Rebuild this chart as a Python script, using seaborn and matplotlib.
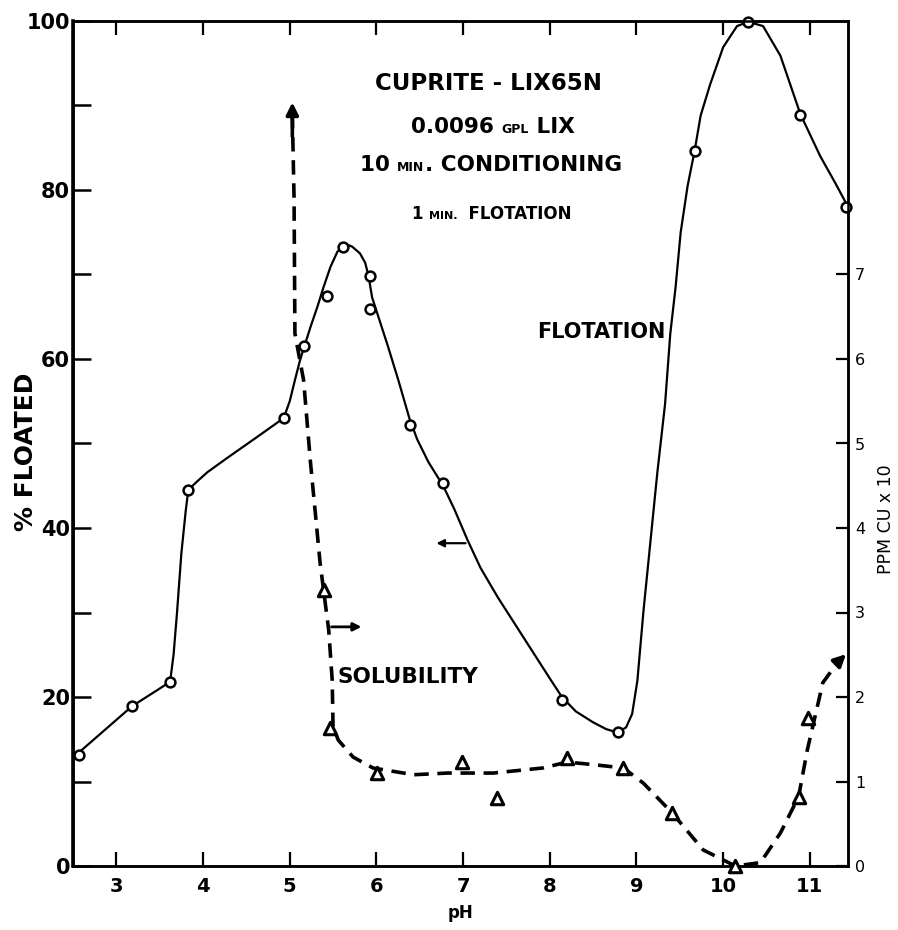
import matplotlib
matplotlib.use('Agg')
import matplotlib.pyplot as plt
import seaborn as sns

# flotation measurements (% floated vs pH)
flot_ph = [2.57, 3.18, 3.62, 3.83, 4.93, 5.16, 5.43, 5.62, 5.93, 5.93, 6.39, 6.77,
           8.14, 8.79, 9.67, 10.29, 10.89, 11.42]
flot_pct = [13.1, 18.9, 21.8, 44.5, 53.0, 61.5, 67.5, 73.3, 69.8, 65.9, 52.2, 45.3,
            19.6, 15.9, 84.6, 99.9, 88.9, 78.0]

# hand drawn flotation curve
flot_curve_ph = [2.52, 3.18, 3.50, 3.62, 3.66, 3.70, 3.75, 3.80, 3.83, 3.92, 4.05, 4.28,
                 4.60, 4.93, 5.00, 5.06, 5.12, 5.24, 5.32, 5.39, 5.47, 5.55, 5.61, 5.67,
                 5.72, 5.81, 5.87, 5.91, 5.95, 6.01, 6.13, 6.25, 6.38, 6.47, 6.60, 6.77,
                 6.90, 7.05, 7.20, 7.40, 7.60, 7.80, 8.00, 8.14, 8.30, 8.50, 8.65, 8.78,
                 8.88, 8.95, 9.01, 9.08, 9.16, 9.24, 9.33, 9.39, 9.45, 9.51, 9.59, 9.67,
                 9.74, 9.85, 10.00, 10.16, 10.29, 10.46, 10.66, 10.89, 11.12, 11.30, 11.43]
flot_curve_pct = [13.0, 18.9, 21.0, 21.8, 25.0, 30.0, 37.0, 42.0, 44.5, 45.4, 46.6, 48.3,
                  50.6, 53.0, 55.0, 57.5, 59.9, 63.8, 66.2, 68.5, 70.9, 72.7, 73.3, 73.5,
                  73.3, 72.5, 71.4, 69.8, 67.3, 65.4, 61.6, 57.6, 53.0, 50.5, 47.8, 45.0,
                  42.2, 38.6, 35.3, 31.8, 28.6, 25.4, 22.2, 20.0, 18.3, 17.0, 16.2, 15.8,
                  16.4, 18.0, 21.9, 30.1, 38.3, 46.5, 54.7, 63.0, 68.4, 75.0, 80.5, 84.6,
                  88.8, 92.5, 96.9, 99.4, 99.9, 99.4, 95.9, 89.0, 84.0, 80.7, 78.2]

# solubility measurements (ppm Cu x 10 vs pH)
sol_ph = [5.39, 5.47, 6.01, 6.99, 7.39, 8.20, 8.85, 9.41, 10.14, 10.87, 10.98]
sol_ppm = [3.27, 1.63, 1.10, 1.23, 0.80, 1.28, 1.16, 0.63, 0.0, 0.82, 1.75]

# dashed solubility curve
sol_curve_ph = [5.03, 5.05, 5.06, 5.16, 5.24, 5.35, 5.39, 5.45, 5.49, 5.50, 5.56, 5.73,
                5.96, 6.43, 6.82, 7.35, 7.92, 8.20, 8.50, 8.85, 9.08, 9.41, 9.77, 10.14,
                10.43, 10.66, 10.87, 10.97, 11.15, 11.30]
sol_curve_ppm = [8.9, 7.9, 6.3, 5.75, 4.77, 3.59, 3.27, 2.79, 2.20, 1.65, 1.49, 1.29,
                 1.16, 1.08, 1.10, 1.10, 1.16, 1.23, 1.20, 1.16, 0.98, 0.63, 0.19, 0.0,
                 0.04, 0.39, 0.82, 1.37, 2.17, 2.38]

left_ticks = [0, 20, 40, 60, 80, 100]
left_minor = [10, 30, 50, 70, 90]
right_ticks = [0, 1, 2, 3, 4, 5, 6, 7]
ph_ticks = [3, 4, 5, 6, 7, 8, 9, 10, 11]

sns.set_style('ticks')
plt.rcParams['font.family'] = ['DejaVu Sans']
plt.rcParams['text.color'] = 'black'
plt.rcParams['axes.labelcolor'] = 'black'
plt.rcParams['xtick.color'] = 'black'
plt.rcParams['ytick.color'] = 'black'

fig = plt.figure(figsize=(8.98, 9.30), dpi=100)
ax = fig.add_axes([73 / 898, 64 / 930, 775 / 898, 845 / 930])
ax2 = ax.twinx()

# flotation
sns.lineplot(x=flot_curve_ph, y=flot_curve_pct, sort=False, estimator=None, ax=ax,
             color='black', linewidth=1.6, zorder=2)
sns.scatterplot(x=flot_ph, y=flot_pct, ax=ax, marker='o', s=50, facecolor='white',
                edgecolor='black', linewidth=1.8, zorder=3, clip_on=False)

# solubility
sns.lineplot(x=sol_curve_ph, y=sol_curve_ppm, sort=False, estimator=None, ax=ax2,
             color='black', linewidth=2.6, linestyle=(0, (4, 2.4)), zorder=2)
sns.scatterplot(x=sol_ph, y=sol_ppm, ax=ax2, marker='^', s=80, facecolor='white',
                edgecolor='black', linewidth=2.2, zorder=3, clip_on=False)

# arrow heads at the ends of the solubility curve
ax2.annotate('', xy=(5.03, 9.07), xytext=(5.03, 8.6),
             arrowprops=dict(arrowstyle='-|>', color='black', lw=2.6,
                             mutation_scale=18))
ax2.annotate('', xy=(11.44, 2.53), xytext=(11.28, 2.37),
             arrowprops=dict(arrowstyle='-|>', color='black', lw=2.6,
                             mutation_scale=18))

# axis pointer arrows
ax.annotate('', xy=(6.66, 38.2), xytext=(7.06, 38.2),
            arrowprops=dict(arrowstyle='-|>', color='black', lw=1.6, mutation_scale=11))
ax.annotate('', xy=(5.86, 28.3), xytext=(5.45, 28.3),
            arrowprops=dict(arrowstyle='-|>', color='black', lw=2.0, mutation_scale=12))

ax.set_xlim(2.5, 11.44)
ax.set_ylim(0, 100)
ax2.set_ylim(0, 10)

ax.set_xticks(ph_ticks)
ax.set_xticklabels([str(t) for t in ph_ticks], fontsize=14, fontweight='bold')
ax.set_yticks(left_ticks)
ax.set_yticklabels([str(t) for t in left_ticks], fontsize=15, fontweight='bold')
ax.set_yticks(left_minor, minor=True)
ax.tick_params(axis='y', which='both', direction='in', length=13, width=1.8, pad=2)
ax.tick_params(axis='x', which='both', direction='in', length=10, width=1.6, pad=8,
               top=True)
ax2.set_yticks(right_ticks)
ax2.set_yticklabels([str(t) for t in right_ticks], fontsize=11.5)
ax2.tick_params(axis='y', direction='in', length=9, width=1.6, pad=5)

for a in (ax, ax2):
    for s in a.spines.values():
        s.set_linewidth(1.8)
        s.set_color('black')
ax.spines['left'].set_linewidth(2.6)

ax.set_xlabel('pH', fontsize=12, fontweight='bold', labelpad=6)
ax.set_ylabel('% FLOATED', fontsize=18, fontweight='bold')
ax2.set_ylabel('PPM CU x 10', fontsize=12.5)
ax2.yaxis.set_label_coords(1.038, 0.41)
ax.yaxis.set_label_coords(-0.045, 0.49)

# curve labels
ax.text(8.60, 63.2, 'FLOTATION', fontsize=15, fontweight='bold', ha='center', va='center')
ax.text(6.36, 22.4, 'SOLUBILITY', fontsize=15.5, fontweight='bold', ha='center', va='center')

fig.canvas.draw()
renderer = fig.canvas.get_renderer()


def put_line(x_center, y, parts):
    # draw a line of mixed sized text, centred on x_center
    texts = []
    x = x_center
    for txt, size in parts:
        t = ax.text(x, y, txt, fontsize=size, fontweight='bold', ha='left', va='baseline')
        bb = t.get_window_extent(renderer)
        x = ax.transData.inverted().transform((bb.x1, bb.y0))[0]
        texts.append(t)
    width = x - x_center
    for t in texts:
        px, py = t.get_position()
        t.set_position((px - width / 2, py))


put_line(7.29, 91.8, [('CUPRITE - LIX65N', 16.5)])
put_line(7.34, 86.7, [('0.0096 ', 15.5), ('GPL', 9), (' LIX', 15.5)])
put_line(7.32, 82.2, [('10 ', 15.5), ('MIN', 9), ('. CONDITIONING', 15.5)])
put_line(7.33, 76.6, [('1 ', 12), ('MIN.', 8), ('  FLOTATION', 12)])

fig.savefig('out.png', dpi=100, facecolor='white')
